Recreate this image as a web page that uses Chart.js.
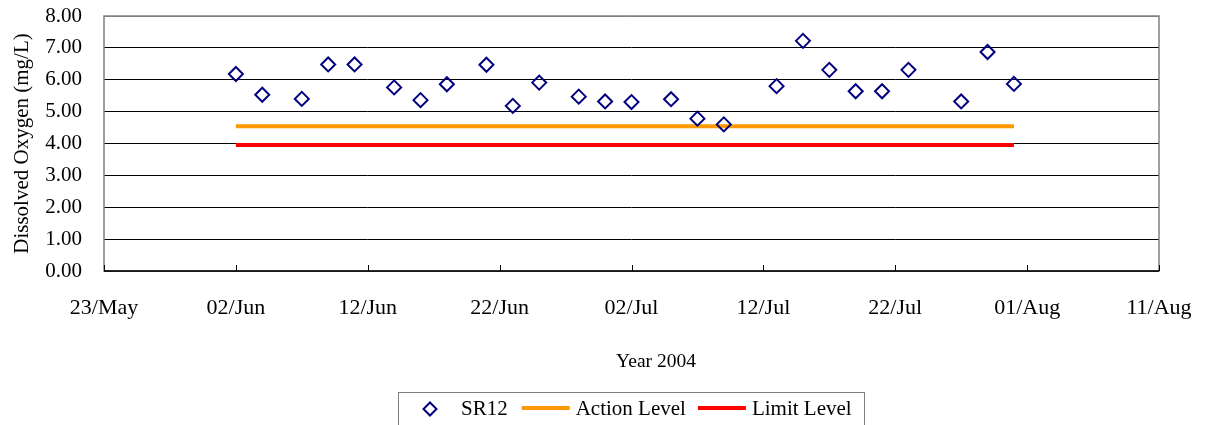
<!DOCTYPE html>
<html>
<head>
<meta charset="utf-8">
<script src="https://cdn.jsdelivr.net/npm/chart.js@4"></script>
<style>
  html, body { margin: 0; padding: 0; background: #fff; }
  #wrap { width: 1205px; height: 425px; position: relative; }
</style>
</head>
<body>
<div id="wrap"><canvas id="chart" width="1205" height="425"></canvas></div>
<script>
// Sampling dates (2004) and readings at SR12
const sampleDates = [
  '2004-06-02', '2004-06-04', '2004-06-07', '2004-06-09', '2004-06-11', '2004-06-14',
  '2004-06-16', '2004-06-18', '2004-06-21', '2004-06-23', '2004-06-25', '2004-06-28',
  '2004-06-30', '2004-07-02', '2004-07-05', '2004-07-07', '2004-07-09', '2004-07-13',
  '2004-07-15', '2004-07-17', '2004-07-19', '2004-07-21', '2004-07-23', '2004-07-27',
  '2004-07-29', '2004-07-31'
];
const sr12Values = [
  6.18, 5.53, 5.40, 6.48, 6.48, 5.76,
  5.36, 5.86, 6.47, 5.18, 5.91, 5.47,
  5.32, 5.30, 5.39, 4.78, 4.60, 5.80,
  7.22, 6.31, 5.64, 5.64, 6.31, 5.32,
  6.87, 5.87
];
const actionLevel = 4.54;
const limitLevel = 3.95;

// axis range: 23/May to 11/Aug, ticks every 10 days
const axisStart = '2004-05-23';
const axisDays = 80;
const tickStep = 10;
const yTicks = [0, 1, 2, 3, 4, 5, 6, 7, 8];
const monthNames = ['Jan','Feb','Mar','Apr','May','Jun','Jul','Aug','Sep','Oct','Nov','Dec'];
const xTitle = 'Year 2004';

const FONT = '"Liberation Serif", "Times New Roman", serif';
const DAY = 86400000;
const baseTime = Date.parse(axisStart + 'T00:00:00Z');

function dayOffset(d) {
  return Math.round((Date.parse(d + 'T00:00:00Z') - baseTime) / DAY);
}
function dayLabel(v) {
  const d = new Date(baseTime + v * DAY);
  const dd = String(d.getUTCDate()).padStart(2, '0');
  return dd + '/' + monthNames[d.getUTCMonth()];
}
function noPad(scale) {
  scale.paddingTop = 0;
  scale.paddingBottom = 0;
  scale.paddingLeft = 0;
  scale.paddingRight = 0;
}

const xs = sampleDates.map(dayOffset);
const sr12Points = xs.map((x, i) => ({ x: x, y: sr12Values[i] }));
const actionPoints = xs.map(x => ({ x: x, y: actionLevel }));
const limitPoints = xs.map(x => ({ x: x, y: limitLevel }));

// plot frame, inward x tick marks, x axis title
const framePlugin = {
  id: 'frame',
  afterDatasetsDraw(chart) {
    const { ctx, chartArea: a, scales: { x } } = chart;
    ctx.save();
    ctx.strokeStyle = '#808080';
    ctx.lineWidth = 1.5;
    ctx.strokeRect(a.left, a.top, a.right - a.left, a.bottom - a.top);
    ctx.strokeStyle = '#000';
    ctx.beginPath();
    ctx.moveTo(a.left, a.bottom);
    ctx.lineTo(a.right, a.bottom);
    ctx.stroke();
    ctx.lineWidth = 1;
    x.ticks.forEach(t => {
      const px = Math.round(x.getPixelForValue(t.value)) + 0.5;
      ctx.beginPath();
      ctx.moveTo(px, a.bottom);
      ctx.lineTo(px, a.bottom - 6);
      ctx.stroke();
    });
    ctx.font = '19.5px ' + FONT;
    ctx.fillStyle = '#000';
    ctx.textAlign = 'center';
    ctx.textBaseline = 'alphabetic';
    ctx.fillText(xTitle, 656, 367);
    ctx.restore();
  }
};

// boxed legend at the bottom
const legendPlugin = {
  id: 'boxLegend',
  afterDraw(chart) {
    const { ctx } = chart;
    const ds = chart.data.datasets;
    ctx.save();
    ctx.font = '21px ' + FONT;
    ctx.textBaseline = 'middle';
    ctx.fillStyle = '#000';
    const cy = 409;
    ctx.strokeStyle = '#808080';
    ctx.lineWidth = 1;
    ctx.strokeRect(398.5, 392.5, 466, 40);

    // SR12 marker
    let x = 430;
    const r = 6.5;
    ctx.strokeStyle = ds[0].borderColor;
    ctx.lineWidth = 2;
    ctx.beginPath();
    ctx.moveTo(x, cy - r); ctx.lineTo(x + r, cy); ctx.lineTo(x, cy + r); ctx.lineTo(x - r, cy);
    ctx.closePath();
    ctx.stroke();
    x = 461;
    ctx.fillText(ds[0].label, x, cy);
    x += ctx.measureText(ds[0].label).width + 14;

    for (let i = 1; i < ds.length; i++) {
      ctx.strokeStyle = ds[i].borderColor;
      ctx.lineWidth = 4;
      ctx.beginPath();
      ctx.moveTo(x, cy - 1); ctx.lineTo(x + 48, cy - 1);
      ctx.stroke();
      x += 54;
      ctx.fillText(ds[i].label, x, cy);
      x += ctx.measureText(ds[i].label).width + 12;
    }
    ctx.restore();
  }
};

new Chart(document.getElementById('chart'), {
  type: 'scatter',
  data: {
    datasets: [
      {
        label: 'SR12',
        data: sr12Points,
        pointStyle: 'rectRot',
        pointRadius: 7,
        pointBorderWidth: 2,
        borderColor: '#000080',
        backgroundColor: 'rgba(255,255,255,0)',
        showLine: false,
        order: 0
      },
      {
        label: 'Action Level',
        data: actionPoints,
        showLine: true,
        borderColor: '#FF9900',
        borderWidth: 4,
        pointRadius: 0,
        order: 1
      },
      {
        label: 'Limit Level',
        data: limitPoints,
        showLine: true,
        borderColor: '#FF0000',
        borderWidth: 4,
        pointRadius: 0,
        order: 2
      }
    ]
  },
  options: {
    responsive: false,
    animation: false,
    layout: { padding: { left: 0, top: 16, right: 46, bottom: 0 } },
    plugins: {
      legend: { display: false },
      tooltip: { enabled: false }
    },
    scales: {
      x: {
        type: 'linear',
        min: 0,
        max: axisDays,
        afterFit(scale) { scale.height = 425 - 271; noPad(scale); },
        grid: { display: false },
        border: { display: false },
        ticks: {
          stepSize: tickStep,
          padding: 16,
          maxRotation: 0,
          color: '#000',
          font: { family: FONT, size: 22 },
          callback: v => dayLabel(v)
        }
      },
      y: {
        min: yTicks[0],
        max: yTicks[yTicks.length - 1],
        afterFit(scale) { scale.width = 104; noPad(scale); },
        afterBuildTicks(scale) { scale.ticks = yTicks.map(v => ({ value: v })); },
        grid: {
          color: c => (c.tick && c.tick.value === 8 ? '#808080' : '#000'),
          lineWidth: 1,
          drawTicks: false
        },
        border: { display: false },
        ticks: {
          padding: 22,
          color: '#000',
          font: { family: FONT, size: 21 },
          callback: v => Number(v).toFixed(2)
        },
        title: {
          display: true,
          text: 'Dissolved Oxygen (mg/L)',
          color: '#000',
          font: { family: FONT, size: 21 },
          padding: { top: 10, bottom: 0 }
        }
      }
    }
  },
  plugins: [framePlugin, legendPlugin]
});
</script>
</body>
</html>
